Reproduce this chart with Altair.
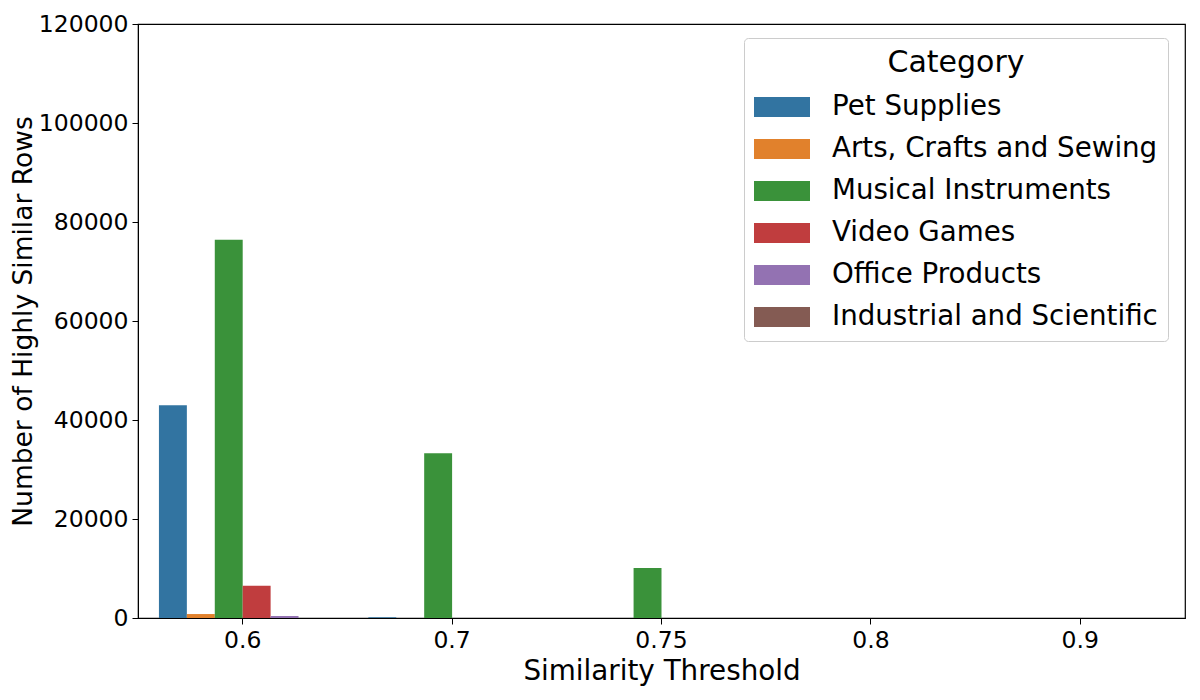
import altair as alt
import pandas as pd

thresholds = ["0.6", "0.7", "0.75", "0.8", "0.9"]
categories = ["Pet Supplies", "Arts, Crafts and Sewing", "Musical Instruments",
              "Video Games", "Office Products", "Industrial and Scientific"]
pet_supplies = [43000, 150, 0, 0, 0]
arts_crafts = [800, 0, 0, 0, 0]
musical = [76400, 33300, 10100, 0, 0]
video_games = [6500, 0, 0, 0, 0]
office = [400, 0, 0, 0, 0]
industrial = [0, 0, 0, 0, 0]
colors = ["#3274a1", "#e1812c", "#3a923a", "#c03d3e", "#9372b2", "#845b53"]

series = [pet_supplies, arts_crafts, musical, video_games, office, industrial]
rows = []
for cat, vals in zip(categories, series):
    for t, v in zip(thresholds, vals):
        rows.append({"Threshold": t, "Category": cat, "Count": v})
df = pd.DataFrame(rows)

FONT = "DejaVu Sans"

chart = alt.Chart(df).mark_bar().encode(
    x=alt.X("Threshold:N", sort=thresholds,
            scale=alt.Scale(paddingInner=0.2, paddingOuter=0.1),
            axis=alt.Axis(title="Similarity Threshold", labelAngle=0, titleFontSize=27.8, titlePadding=6)),
    xOffset=alt.XOffset("Category:N", sort=categories,
                        scale=alt.Scale(paddingInner=0, paddingOuter=0)),
    y=alt.Y("Count:Q", scale=alt.Scale(domain=[0, 120000], nice=False),
            axis=alt.Axis(title="Number of Highly Similar Rows", values=list(range(0, 120001, 20000)),
                          format="d", titleFontSize=26.5, titlePadding=1)),
    color=alt.Color("Category:N", sort=categories,
                    scale=alt.Scale(domain=categories, range=colors),
                    legend=alt.Legend(title="Category", orient="none", legendX=606, legendY=14,
                                      fillColor="white", strokeColor="#cccccc", cornerRadius=4,
                                      padding=10, titleAnchor="middle", titleFontSize=30,
                                      titleFontWeight="normal", titleFont=FONT, titlePadding=1,
                                      labelFontSize=27.7, labelFont=FONT, labelColor="black",
                                      titleColor="black", labelOffset=22,
                                      symbolType="M-1,-0.36L1,-0.36L1,0.36L-1,0.36Z",
                                      symbolSize=3136, symbolStrokeWidth=0, symbolOpacity=1,
                                      rowPadding=0, labelLimit=600)),
).properties(
    width=1047, height=594,
    autosize=alt.AutoSizeParams(type="none"),
    padding={"left": 130, "top": 16, "right": 7, "bottom": 80},
).configure_view(
    stroke="black", strokeWidth=1.2
).configure_axis(
    labelFont=FONT, titleFont=FONT, labelFontSize=23.5,
    labelColor="black", titleColor="black", titleFontWeight="normal",
    domainColor="black", tickColor="black", tickSize=6, grid=False,
    labelPadding=4
)

chart.save("out.html", embed_options={"renderer": "svg", "actions": False})
